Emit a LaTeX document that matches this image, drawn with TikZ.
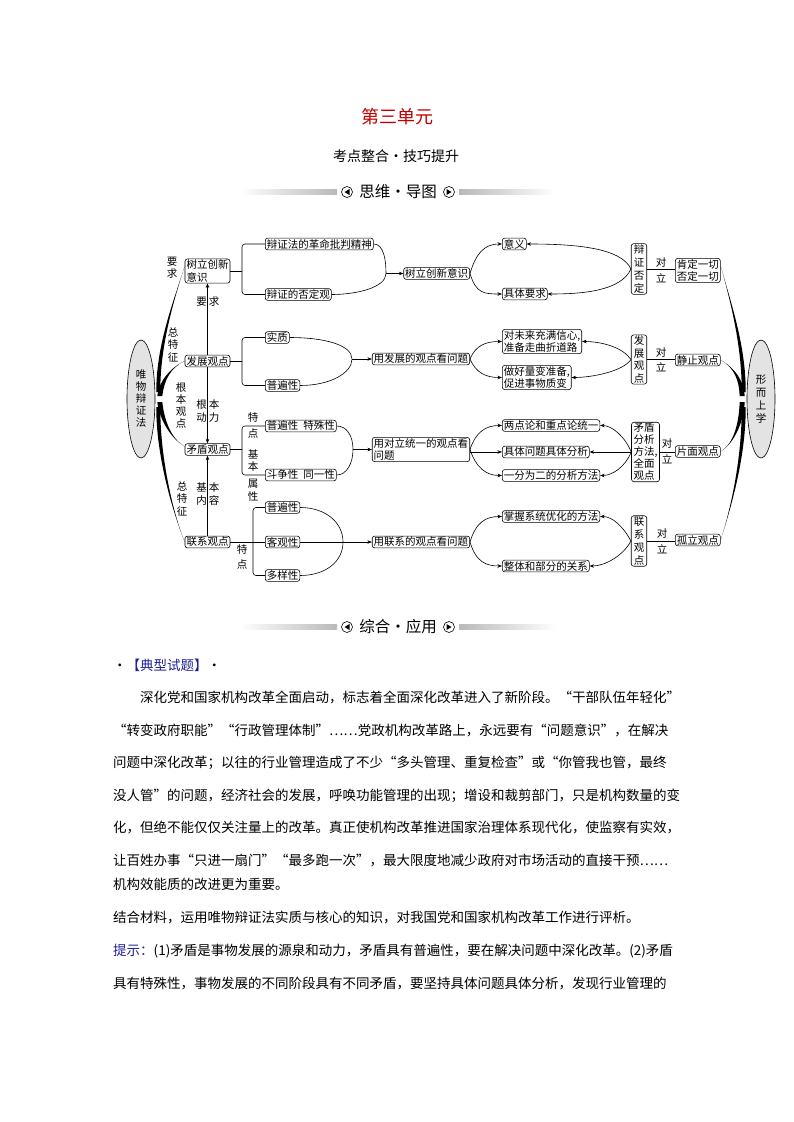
\documentclass[tikz,border=0pt]{standalone}
\usepackage{fontspec}
\newfontfamily\cjk{Noto Sans CJK SC}
\usetikzlibrary{arrows.meta,positioning,calc,shapes.geometric}
\definecolor{titlered}{RGB}{192,0,0}
\definecolor{tipblue}{RGB}{30,30,150}
% glue between CJK characters, so a body line can be set to a fixed width
\XeTeXinterchartokenstate=1
\newcommand\cjkglue{\hskip 0pt plus 3pt minus 1pt\relax}
\XeTeXinterchartoks 1 1 = {\cjkglue}
\XeTeXinterchartoks 1 2 = {\cjkglue}
\XeTeXinterchartoks 1 3 = {\cjkglue}
\XeTeXinterchartoks 2 1 = {\cjkglue}
\XeTeXinterchartoks 3 1 = {\cjkglue}
\XeTeXinterchartoks 3 2 = {\cjkglue}
\XeTeXinterchartoks 3 3 = {\cjkglue}
\XeTeXinterchartoks 0 1 = {\cjkglue}
\XeTeXinterchartoks 1 0 = {\cjkglue}
% tapered stroke: start, control, control, end, thickness at the end
\newcommand\taper[5]{\fill (#1) .. controls (#2) and (#3) .. (#4) -- ($(#4)+(#5,0)$) .. controls ($(#3)+(#5,0)$) and (#2) .. (#1) -- cycle;}
\tikzset{
  box/.style={draw,rounded corners=2.5pt,inner xsep=1.5pt,inner ysep=1pt,line width=.6pt},
  vbox/.style={box,align=center,inner xsep=2.5pt},
  lbl/.style={inner sep=0pt,align=center},
  link/.style={line width=.6pt},
  arr/.style={line width=.6pt,-{Stealth[length=4.5pt,width=3.5pt]}},
  body/.style={inner sep=0pt,anchor=base west,font=\cjk\fontsize{13.5}{16}\selectfont},
}

\begin{document}
\begin{tikzpicture}[x=1pt,y=-1pt,every node/.style={font=\cjk\fontsize{10.5}{12.5}\selectfont}]
\fill[white] (0,0) rectangle (793,1122);
\useasboundingbox (0,0) rectangle (793,1122);

% heading
\node[font=\cjk\fontsize{18}{20}\selectfont,text=titlered] (ttl) at (397,117) {第三单元};
\node[font=\cjk\fontsize{14}{16}\selectfont] (sub) at (396,156) {考点整合·技巧提升};
\shade[left color=white,right color=gray!55] (240,189.5) rectangle (337,194.5);
\shade[left color=gray!55,right color=white] (459,189.5) rectangle (556,194.5);
\node[font=\cjk\fontsize{15.5}{17}\selectfont] (bn1) at (398,192) {思维·导图};
\draw[line width=.6pt] (347,192) circle (5.5pt);
\fill (349.5,189) -- (344.5,192) -- (349.5,195) -- cycle;
\draw[line width=.6pt] (449,192) circle (5.5pt);
\fill (446.5,189) -- (451.5,192) -- (446.5,195) -- cycle;

% the two ellipses
\node[draw,ellipse,fill=gray!22,line width=.6pt,minimum width=28pt,minimum height=118pt,inner sep=0pt,align=center,font=\cjk\fontsize{10.5}{12}\selectfont] (wb) at (141,399) {唯\\物\\辩\\证\\法};
\node[draw,ellipse,fill=gray!22,line width=.6pt,minimum width=28pt,minimum height=118pt,inner sep=0pt,align=center,font=\cjk\fontsize{10.5}{13}\selectfont] (xs) at (761,399) {形\\而\\上\\学};

% first column
\node[box,align=left] (sl) at (207.5,271) {树立创新\\意识};
\node[box] (fz) at (207.5,361) {发展观点};
\node[box] (md) at (207.5,449.5) {矛盾观点};
\node[box] (lx) at (207.5,542) {联系观点};

% second column
\node[box,anchor=west] (gm) at (265,244) {辩证法的革命批判精神};
\node[box,anchor=west] (fd) at (265,294.5) {辩证的否定观};
\node[box,anchor=west] (sz) at (265,337.5) {实质};
\node[box,anchor=west] (pb1) at (265,385.5) {普遍性};
\node[box,anchor=west] (ts) at (265,426) {普遍性\hspace{5pt}特殊性};
\node[box,anchor=west] (dt) at (265,475) {斗争性\hspace{5pt}同一性};
\node[box,anchor=west] (pb2) at (265,507.5) {普遍性};
\node[box,anchor=west] (kg) at (265,542) {客观性};
\node[box,anchor=west] (dy) at (265,575.5) {多样性};

% third column
\node[box,anchor=east] (sl2) at (470,273.5) {树立创新意识};
\node[box,anchor=east] (kfz) at (470,359) {用发展的观点看问题};
\node[box,anchor=east,align=left] (kdl) at (470,449.5) {用对立统一的观点看\\问题};
\node[box,anchor=east] (klx) at (470,542) {用联系的观点看问题};

% fourth column
\node[box,anchor=west] (yy) at (502,244) {意义};
\node[box,anchor=west] (jt) at (502,294) {具体要求};
\node[box,anchor=west,align=left] (wl) at (502,341.5) {对未来充满信心,\\准备走曲折道路};
\node[box,anchor=west,align=left] (lb) at (502,377.5) {做好量变准备,\\促进事物质变};
\node[box,anchor=west] (ld) at (502,425.5) {两点论和重点论统一};
\node[box,anchor=west] (jf) at (502,452) {具体问题具体分析};
\node[box,anchor=west] (yf) at (502,475.5) {一分为二的分析方法};
\node[box,anchor=west] (zw) at (502,516.5) {掌握系统优化的方法};
\node[box,anchor=west] (zb) at (502,566) {整体和部分的关系};

% fifth column
\node[vbox,font=\cjk\fontsize{10.5}{13}\selectfont] (bf) at (639,269) {辩\\证\\否\\定};
\node[vbox,font=\cjk\fontsize{10.5}{12.5}\selectfont] (fz5) at (639,359.5) {发\\展\\观\\点};
\node[box,align=left,inner xsep=2pt,font=\cjk\fontsize{10.5}{12}\selectfont] (mf) at (645.5,452) {矛盾\\分析\\方法,\\全面\\观点};
\node[vbox,font=\cjk\fontsize{10.5}{13}\selectfont] (lx5) at (639,541) {联\\系\\观\\点};

% sixth column
\node[box,anchor=west,align=left] (kd) at (675,270.5) {肯定一切\\否定一切};
\node[box,anchor=west] (jz) at (675,360) {静止观点};
\node[box,anchor=west] (pm) at (675,451.5) {片面观点};
\node[box,anchor=west] (gl) at (675,540) {孤立观点};

% thick strokes to the ellipses
\taper{$(sl.west)+(0,-5)$}{174,300}{156,345}{$(wb.east)+(1,-7)$}{4}
\taper{fz.west}{170,368}{159,381}{$(wb.east)+(2,-3)$}{5}
\taper{$(md.west)+(0,-3)$}{170,438}{159,418}{$(wb.east)+(2,3)$}{5}
\taper{lx.west}{172,510}{156,455}{$(wb.east)+(1,8)$}{4}
\taper{$(kd.east)+(0,-5)$}{730,300}{746,345}{$(xs.west)+(-1,-7)$}{-4}
\taper{jz.east}{735,368}{744,381}{$(xs.west)+(-2,-3)$}{-5}
\taper{pm.east}{735,443}{744,420}{$(xs.west)+(-2,3)$}{-5}
\taper{gl.east}{732,505}{746,455}{$(xs.west)+(-1,8)$}{-4}

% labels on the left
\node[lbl] at (172,267.5) {要\\求};
\node[lbl] at (173,345) {总\\特\\征};
\node[lbl,font=\cjk\fontsize{10.5}{12}\selectfont] at (181,405) {根\\本\\观\\点};
\node[lbl] at (182,499) {总\\特\\征};

% arrows down the first column
\draw[arr] (fz.north) -- (sl.south);
\draw[arr] (fz.south) -- (md.north);
\draw[arr] (lx.north) -- (md.south);
\node[lbl] at (201.5,302) {要};
\node[lbl] at (214,302) {求};
\node[lbl] at (201.5,411) {根\\动};
\node[lbl] at (214,411) {本\\力};
\node[lbl] at (201.5,494) {基\\内};
\node[lbl] at (214,494) {本\\容};

% brackets to the second column
\coordinate (k1) at (242,0);
\coordinate (k2) at (253,0);
\coordinate (br1) at (k1 |- sl.east);
\coordinate (br2) at (k1 |- fz.east);
\coordinate (br3) at (k1 |- md.east);
\coordinate (br4) at (k2 |- lx.east);
\draw[link,rounded corners=3pt] (gm.west) -| (br1) |- (fd.west);
\draw[link] (sl.east) -- (br1);
\draw[link,rounded corners=3pt] (sz.west) -| (br2) |- (pb1.west);
\draw[link] (fz.east) -- (br2);
\draw[link,rounded corners=3pt] (ts.west) -| (br3) |- (dt.west);
\draw[link] (md.east) -- (br3);
\draw[link,rounded corners=3pt] (pb2.west) -| (br4) |- (dy.west);
\draw[link] (lx.east) -- (kg.west);
\node[lbl] at (253,417) {特};
\node[lbl] at (253,433) {点};
\node[lbl] at (253,460.5) {基\\本};
\node[lbl] at (253,490) {属\\性};
\node[lbl] at (242,549) {特};
\node[lbl] at (242,564) {点};

% second column joined and led to the third
\coordinate (m1) at (386,273.5);
\coordinate (m2) at (352,359);
\coordinate (m3) at (353,449.5);
\coordinate (m4) at (343,542);
\draw[link] (gm.east) .. controls +(10,0) and +(0,-14) .. (m1) .. controls +(0,14) and +(25,0) .. (fd.east);
\draw[link] (sz.east) .. controls +(35,0) and +(0,-14) .. (m2) .. controls +(0,14) and +(30,0) .. (pb1.east);
\draw[link] (ts.east) .. controls +(10,0) and +(0,-14) .. (m3) .. controls +(0,14) and +(10,0) .. (dt.east);
\draw[link] (pb2.east) .. controls +(25,0) and +(0,-20) .. (m4) .. controls +(0,20) and +(25,0) .. (dy.east);
\draw[link] (kg.east) -- (m4);
\draw[arr] (m1) -- (sl2.west);
\draw[arr] (m2) -- (kfz.west);
\draw[arr] (m3) -- (kdl.west);
\draw[arr] (m4) -- (klx.west);

% third column to fourth
\draw[arr] (sl2.east) .. controls +(6,-20) and +(-18,0) .. (yy.west);
\draw[arr] (sl2.east) .. controls +(6,20) and +(-18,0) .. (jt.west);
\draw[arr] (kfz.east) .. controls +(6,-14) and +(-16,0) .. (wl.west);
\draw[arr] (kfz.east) .. controls +(6,14) and +(-16,0) .. (lb.west);
\draw[arr] (kdl.east) .. controls +(6,-18) and +(-16,0) .. (ld.west);
\draw[arr] (kdl.east |- jf.west) -- (jf.west);
\draw[arr] (kdl.east) .. controls +(6,18) and +(-16,0) .. (yf.west);
\draw[arr] (klx.east) .. controls +(6,-20) and +(-16,0) .. (zw.west);
\draw[arr] (klx.east) .. controls +(6,20) and +(-16,0) .. (zb.west);

% fifth column back to fourth
\draw[arr] (bf.west) .. controls +(-10,-22) and +(45,0) .. (yy.east);
\draw[arr] (bf.west) .. controls +(-10,22) and +(35,0) .. (jt.east);
\draw[arr] (fz5.west) .. controls +(-8,-12) and +(20,0) .. (wl.east);
\draw[arr] (fz5.west) .. controls +(-8,12) and +(20,0) .. (lb.east);
\draw[arr] (mf.west) .. controls +(-6,-15) and +(12,0) .. (ld.east);
\draw[arr] (mf.west |- jf.east) -- (jf.east);
\draw[arr] (mf.west) .. controls +(-6,15) and +(12,0) .. (yf.east);
\draw[arr] (lx5.west) .. controls +(-8,-15) and +(12,0) .. (zw.east);
\draw[arr] (lx5.west) .. controls +(-8,15) and +(15,0) .. (zb.east);

% opposed views
\draw[link] (bf.east) -- (bf.east -| kd.west);
\draw[link] (fz5.east) -- (fz5.east -| jz.west);
\draw[link] (mf.east) -- (mf.east -| pm.west);
\draw[link] (lx5.east) -- (lx5.east -| gl.west);
\node[lbl] at (661,262) {对};
\node[lbl] at (661,278) {立};
\node[lbl] at (661,352) {对};
\node[lbl] at (661,367) {立};
\node[lbl] at (667,443) {对};
\node[lbl] at (667,459) {立};
\node[lbl] at (662,533) {对};
\node[lbl] at (662,549) {立};

% second heading
\shade[left color=white,right color=gray!55] (240,624.5) rectangle (337,629.5);
\shade[left color=gray!55,right color=white] (459,624.5) rectangle (556,629.5);
\node[font=\cjk\fontsize{15.5}{17}\selectfont] (bn2) at (398,627) {综合·应用};
\draw[line width=.6pt] (347,627) circle (5.5pt);
\fill (349.5,624) -- (344.5,627) -- (349.5,630) -- cycle;
\draw[line width=.6pt] (449,627) circle (5.5pt);
\fill (446.5,624) -- (451.5,627) -- (446.5,630) -- cycle;

% text
\node[body] (p0) at (113,670) {·\textcolor{tipblue}{【典型试题】}·};
\node[body] (p1) at (140,702) {\makebox[530pt][s]{深化党和国家机构改革全面启动，标志着全面深化改革进入了新阶段。“干部队伍年轻化”}};
\node[body] (p2) at (113,735) {\makebox[557pt][s]{“转变政府职能”“行政管理体制”⋯⋯党政机构改革路上，永远要有“问题意识”，在解决}};
\node[body] (p3) at (113,767) {\makebox[557pt][s]{问题中深化改革；以往的行业管理造成了不少“多头管理、重复检查”或“你管我也管，最终}};
\node[body] (p4) at (113,800) {\makebox[557pt][s]{没人管”的问题，经济社会的发展，呼唤功能管理的出现；增设和裁剪部门，只是机构数量的变}};
\node[body] (p5) at (113,832) {\makebox[557pt][s]{化，但绝不能仅仅关注量上的改革。真正使机构改革推进国家治理体系现代化，使监察有实效，}};
\node[body] (p6) at (113,865) {\makebox[557pt][s]{让百姓办事“只进一扇门”“最多跑一次”，最大限度地减少政府对市场活动的直接干预⋯⋯}};
\node[body] (p7) at (113,889) {机构效能质的改进更为重要。};
\node[body] (p8) at (113,922) {结合材料，运用唯物辩证法实质与核心的知识，对我国党和国家机构改革工作进行评析。};
\node[body] (p9) at (113,955) {\makebox[557pt][s]{\textcolor{tipblue}{提示：}(1)矛盾是事物发展的源泉和动力，矛盾具有普遍性，要在解决问题中深化改革。(2)矛盾}};
\node[body] (p10) at (113,988) {\makebox[557pt][s]{具有特殊性，事物发展的不同阶段具有不同矛盾，要坚持具体问题具体分析，发现行业管理的}};
\end{tikzpicture}
\end{document}
